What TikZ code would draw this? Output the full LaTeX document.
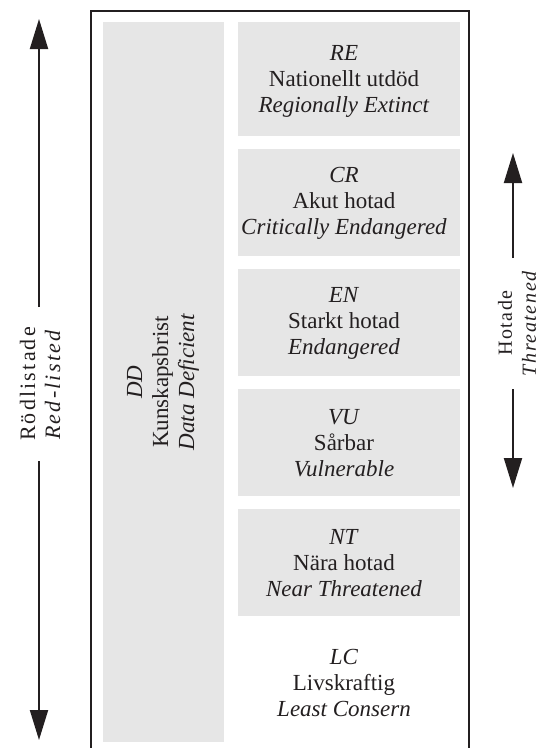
\documentclass[tikz,border=0pt]{standalone}
\usepackage{fontspec}
\setmainfont{Liberation Serif}
\usetikzlibrary{arrows.meta}
\definecolor{boxgray}{HTML}{E6E6E6}
\definecolor{ink}{HTML}{231F20}
\begin{document}
\begin{tikzpicture}[x=1pt,y=-1pt,
  catbox/.style={fill=boxgray, draw=none, inner sep=0pt, minimum width=222pt, minimum height=107pt},
  cattext/.style={align=center, font=\fontsize{23}{26}\selectfont, text=ink, inner sep=0pt},
  bigarrow/.style={draw=ink, line width=2pt, -{Triangle[length=30pt,width=18pt]}},
  sidelabel/.style={rotate=90, align=center, text=ink, inner sep=0pt}]
\useasboundingbox (0,0) rectangle (542,748);

% frame (open at the bottom)
\draw[ink, line width=1.2pt] (91,748) -- (91,11) -- (469,11) -- (469,748);

% DD column
\node[fill=boxgray, inner sep=0pt, minimum width=121pt, minimum height=720pt] (ddbox) at (163.5,382) {};
\node[cattext, rotate=90] (dd) at (163,382) {\textit{DD}\\Kunskapsbrist\\\textit{Data Deficient}};

% category boxes
\node[catbox, minimum height=114pt] (rebox) at (349,79) {};
\node[catbox] (crbox) at (349,202.5) {};
\node[catbox] (enbox) at (349,322.5) {};
\node[catbox] (vubox) at (349,442.5) {};
\node[catbox] (ntbox) at (349,562.5) {};

\node[cattext] (re) at (344,81) {\textit{RE}\\Nationellt utdöd\\\textit{Regionally Extinct}};
\node[cattext] (cr) at (344,203) {\textit{CR}\\Akut hotad\\\textit{Critically Endangered}};
\node[cattext] (en) at (344,323) {\textit{EN}\\Starkt hotad\\\textit{Endangered}};
\node[cattext] (vu) at (344,443) {\textit{VU}\\Sårbar\\\textit{Vulnerable}};
\node[cattext] (nt) at (344,563) {\textit{NT}\\Nära hotad\\\textit{Near Threatened}};
\node[cattext] (lc) at (344,683) {\textit{LC}\\Livskraftig\\\textit{Least Consern}};

% left arrow: Rödlistade / Red-listed
\coordinate (ltop) at (39,19);
\coordinate (lupper) at (39,307);
\coordinate (llower) at (39,461);
\coordinate (lbot) at (39,740);
\draw[bigarrow] (lupper) -- (ltop);
\draw[bigarrow] (llower) -- (lbot);
\node[sidelabel, font=\fontsize{22}{25}\selectfont\addfontfeatures{LetterSpace=10}] (redlisted) at (40,384) {Rödlistade\\\textit{Red-listed}};

% right arrow: Hotade / Threatened
\coordinate (rtop) at (513,153);
\coordinate (rupper) at (513,258);
\coordinate (rlower) at (513,389);
\coordinate (rbot) at (513,488);
\draw[bigarrow] (rupper) -- (rtop);
\draw[bigarrow] (rlower) -- (rbot);
\node[sidelabel, font=\fontsize{20}{24}\selectfont\addfontfeatures{LetterSpace=8}] (threatened) at (517,323) {Hotade\\\textit{Threatened}};
\end{tikzpicture}
\end{document}
